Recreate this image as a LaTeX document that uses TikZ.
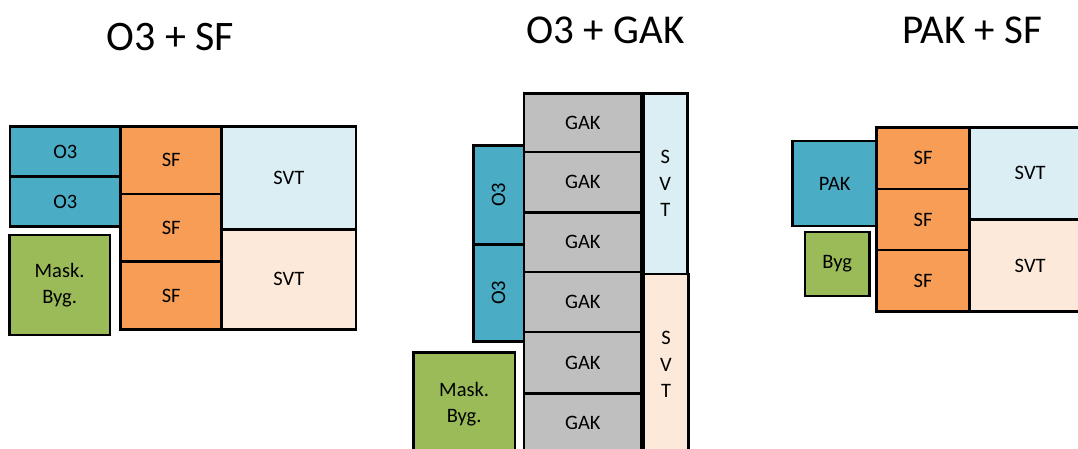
\documentclass[tikz,border=0pt]{standalone}
\usepackage{fontspec}
\setmainfont{Carlito}
\definecolor{oblue}{HTML}{4BACC6}
\definecolor{sforange}{HTML}{F79D56}
\definecolor{mgreen}{HTML}{9BBB59}
\definecolor{gakgray}{HTML}{BFBFBF}
\definecolor{svtblue}{HTML}{DAEEF3}
\definecolor{svtpeach}{HTML}{FDE9D9}
\tikzset{
  box/.style={draw=black, line width=2.5pt, inner sep=0pt, font=\fontsize{20.5}{26}\selectfont, align=center},
  o3box/.style={box, fill=oblue},
  sfbox/.style={box, fill=sforange},
  greenbox/.style={box, fill=mgreen},
  gakbox/.style={box, fill=gakgray},
  svtup/.style={box, fill=svtblue},
  svtdown/.style={box, fill=svtpeach},
  vtext/.style={font=\fontsize{20.5}{26.5}\selectfont},
  ttl/.style={anchor=base, inner sep=0pt}
}
\begin{document}
\begin{tikzpicture}[x=1pt,y=-1pt]
\useasboundingbox (0,0) rectangle (1078,449);
\clip (0,0) rectangle (1078,449);
% titles
\node[ttl, font=\fontsize{42}{48}\selectfont] (t1) at (170.3,50.7) {O3 + SF};
\node[ttl, font=\fontsize{41}{48}\selectfont] (t2) at (605.5,43.3) {O3 + GAK};
\node[ttl, font=\fontsize{41}{48}\selectfont] (t3) at (972,43.3) {PAK + SF};
% panel 1
\node[o3box, minimum width=110.7, minimum height=50] (p1o3a) at (65.35,151.7) {O3};
\node[o3box, minimum width=110.7, minimum height=50] (p1o3b) at (65.35,201.7) {O3};
\node[sfbox, minimum width=101, minimum height=67.3] (p1sf1) at (171.2,160.35) {SF};
\node[sfbox, minimum width=101, minimum height=67.7] (p1sf2) at (171.2,227.85) {SF};
\node[sfbox, minimum width=101, minimum height=67.6] (p1sf3) at (171.2,295.5) {SF};
\node[svtup, minimum width=134.3, minimum height=102.6] (p1svt1) at (288.85,178) {SVT};
\node[svtdown, minimum width=134.3, minimum height=100] (p1svt2) at (288.85,279.3) {SVT};
\node[greenbox, minimum width=100.7, minimum height=100] (p1mask) at (59.65,285) {Mask.\\Byg.};
% panel 2
\node[gakbox, minimum width=117.7, minimum height=58.7] (g1) at (582.85,122.65) {GAK};
\node[gakbox, minimum width=117.7, minimum height=60.3] (g2) at (582.85,182.15) {GAK};
\node[gakbox, minimum width=117.7, minimum height=59.7] (g3) at (582.85,242.15) {GAK};
\node[gakbox, minimum width=117.7, minimum height=60] (g4) at (582.85,302) {GAK};
\node[gakbox, minimum width=117.7, minimum height=61.3] (g5) at (582.85,362.65) {GAK};
\node[gakbox, minimum width=117.7, minimum height=60] (g6) at (582.85,423.3) {GAK};
\node[svtup, vtext, minimum width=44, minimum height=180.7] (p2svt1) at (665.3,183.65) {S\\V\\T};
\node[svtdown, vtext, minimum width=45.4, minimum height=181] (p2svt2) at (666,364.5) {S\\V\\T};
\node[o3box, minimum width=50.7, minimum height=98.6] (p2o3a) at (498.65,195) {\rotatebox{90}{O3}};
\node[o3box, minimum width=50.7, minimum height=97.4] (p2o3b) at (498.65,293) {\rotatebox{90}{O3}};
\node[greenbox, minimum width=101.7, minimum height=102.3] (p2mask) at (464.15,403.85) {Mask.\\Byg.};
% panel 3
\node[o3box, minimum width=84, minimum height=85] (pak) at (834.7,183.5) {PAK};
\node[sfbox, minimum width=92.6, minimum height=61.7] (p3sf1) at (923,158.15) {SF};
\node[sfbox, minimum width=92.6, minimum height=61] (p3sf2) at (923,219.5) {SF};
\node[sfbox, minimum width=92.6, minimum height=61.7] (p3sf3) at (923,280.85) {SF};
\node[svtup, minimum width=121.7, minimum height=92] (p3svt1) at (1030.15,173.3) {SVT};
\node[svtdown, minimum width=121.7, minimum height=92.4] (p3svt2) at (1030.15,265.5) {SVT};
\node[greenbox, minimum width=64.3, minimum height=64] (byg) at (837.15,264) {Byg};
\end{tikzpicture}
\end{document}
